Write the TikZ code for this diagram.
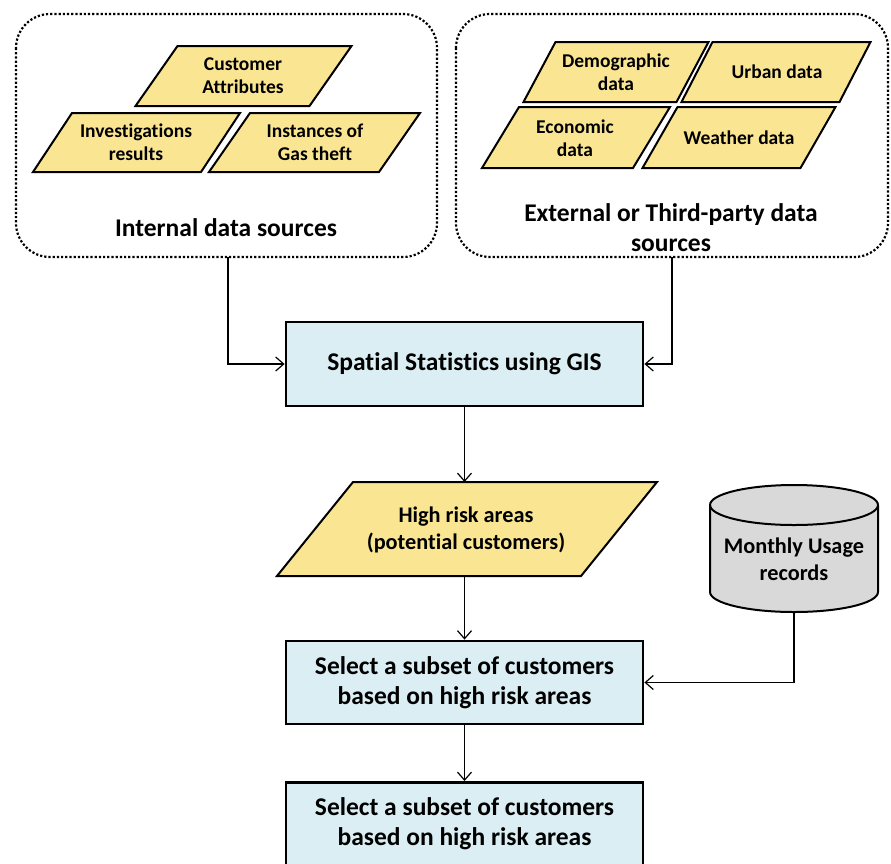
\documentclass[tikz,border=0pt]{standalone}
\usepackage{fontspec}
\setmainfont{Carlito}[Ligatures=NoCommon]
\usetikzlibrary{arrows.meta}

\definecolor{paraYellow}{RGB}{250,230,146}
\definecolor{procBlue}{RGB}{218,238,243}
\definecolor{dbGray}{RGB}{217,217,217}

% parallelogram: #1 centre x, #2 centre y, #3 width, #4 height, #5 slant, #6 name
\newcommand\datapara[6]{%
  \draw[paraline] ({#1-#3/2+#5/2},{#2-#4/2}) -- ({#1+#3/2+#5/2},{#2-#4/2})
    -- ({#1+#3/2-#5/2},{#2+#4/2}) -- ({#1-#3/2-#5/2},{#2+#4/2}) -- cycle;
  \coordinate (#6-n) at (#1,{#2-#4/2});
  \coordinate (#6-s) at (#1,{#2+#4/2});
}

\begin{document}
\begin{tikzpicture}[x=1pt,y=-1pt,
  paraline/.style={draw=black,line width=2pt,fill=paraYellow,line join=miter},
  group/.style={draw=black,line width=2.2pt,dotted,rounded corners=34pt},
  proc/.style={draw=black,line width=2.8pt,fill=procBlue},
  smalltxt/.style={font=\fontsize{19.5}{23}\selectfont\bfseries,align=center},
  bigtxt/.style={font=\fontsize{25.5}{30}\selectfont\bfseries,align=center},
  midtxt/.style={font=\fontsize{22.3}{27}\selectfont\bfseries,align=center},
  link/.style={draw=black,line width=1.2pt,-{Straight Barb[length=8pt,width=14pt,line width=1.2pt]}}
]
\clip (0,0) rectangle (891,863);
\fill[white] (0,0) rectangle (891,863);

% --- internal data sources group ---
\draw[group] (16,14) rectangle (437,257);
\coordinate (intS) at (228,257);
\datapara{243.5}{76}{174}{60}{42}{ca}
\datapara{136.5}{142.5}{168}{59}{39}{ir}
\datapara{314.5}{142.5}{170}{59}{41}{ig}
\node[smalltxt] (tca) at (243,76) {Customer\\Attributes};
\node[smalltxt] (tir) at (136,142) {Investigations\\results};
\node[smalltxt] (tig) at (315,142) {Instances of\\Gas theft};
\node[bigtxt] (tint) at (226,228) {Internal data sources};

% --- external data sources group ---
\draw[group] (456,14) rectangle (888,257);
\coordinate (extS) at (672,257);
\datapara{616}{72}{153}{60}{32}{dem}
\datapara{776}{72}{158}{60}{31}{urb}
\datapara{576}{137.5}{151}{61}{37}{eco}
\datapara{739}{137.5}{158}{61}{35}{wea}
\node[smalltxt] (tdem) at (616,72) {Demographic\\data};
\node[smalltxt] (turb) at (777,72) {Urban data};
\node[smalltxt] (teco) at (575,138) {Economic\\data};
\node[smalltxt] (twea) at (739,138) {Weather data};
\node[bigtxt] (text) at (671,228) {External or Third-party data\\sources};

% --- processing chain ---
\node[proc,minimum width=357pt,minimum height=84pt,bigtxt] (gis) at (464.5,364) {Spatial Statistics using GIS};

\datapara{467}{529}{304}{94}{76}{hr}
\node[midtxt] (thr) at (466,530) {High risk areas\\(potential customers)};

% monthly usage records cylinder
\fill[dbGray,draw=black,line width=2pt] (710,505) -- (710,592)
  arc[start angle=180,end angle=0,x radius=84,y radius=20] -- (878,505)
  arc[start angle=0,end angle=-180,x radius=84,y radius=20] -- cycle;
\draw[black,line width=2pt] (710,505) arc[start angle=180,end angle=0,x radius=84,y radius=20];
\coordinate (dbS) at (794,612);
\node[midtxt] (tdb) at (794,559) {Monthly Usage\\records};

\node[proc,minimum width=357pt,minimum height=83pt,bigtxt] (sel1) at (464.5,682.5) {Select a subset of customers\\based on high risk areas};
\node[proc,minimum width=357pt,minimum height=110pt,anchor=north] (sel2) at (464.5,781) {};
\node[bigtxt] (tsel2) at (464.5,824) {Select a subset of customers\\based on high risk areas};

% --- connectors ---
\draw[link] (intS) |- (gis.west);
\draw[link] (extS) |- (gis.east);
\draw[link] (gis.south) -- (gis.south |- hr-n);
\draw[link] (gis.south |- hr-s) -- (sel1.north);
\draw[link] (dbS) |- (sel1.east);
\draw[link] (sel1.south) -- (sel2.north);
\end{tikzpicture}
\end{document}
